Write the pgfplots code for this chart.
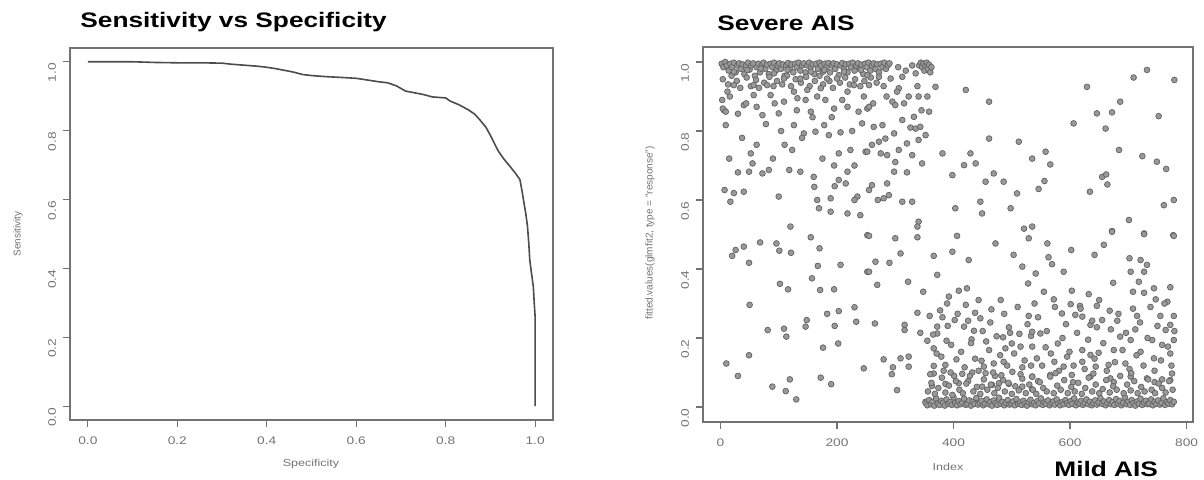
\documentclass[border=0pt]{standalone}
\usepackage{pgfplots}
\pgfplotsset{compat=1.18}
\usepackage{fontspec}
\setmainfont{Liberation Sans}
\newfontfamily\wfont[FakeStretch=1.25]{Liberation Sans}
\definecolor{rgray}{gray}{0.45}
\begin{document}
\begin{tikzpicture}
\path[use as bounding box] (0pt,0pt) rectangle (602pt,240pt);
\pgfplotsset{
  rstyle/.style={
    scale only axis, anchor=south west,
    axis line style={rgray, line width=0.9pt},
    tick style={rgray, line width=0.6pt},
    tick align=outside, major tick length=3.5pt,
    xtick pos=bottom, ytick pos=left,
    ticklabel style={font=\wfont\fontsize{5.5}{6}\selectfont, text=rgray},
    yticklabel style={rotate=90, anchor=south, xshift=-5.5pt},
    xticklabel style={yshift=-1.5pt},
  }
}
% ---------- left: ROC curve ----------
\begin{axis}[rstyle, at={(35pt,30pt)}, width=241.5pt, height=186pt,
  xmin=-0.04, xmax=1.04, ymin=-0.04, ymax=1.04,
  xtick={0,0.2,0.4,0.6,0.8,1}, xticklabels={0.0,0.2,0.4,0.6,0.8,1.0},
  ytick={0,0.2,0.4,0.6,0.8,1}, yticklabels={0.0,0.2,0.4,0.6,0.8,1.0}]
\addplot[black!70, line width=0.8pt] coordinates {
(0,1.0)(0.05,1.0)(0.1,1.0)(0.15,0.998)(0.2,0.997)(0.25,0.997)(0.3,0.996)(0.32,0.993)
(0.35,0.99)(0.38,0.987)(0.4,0.984)(0.42,0.98)(0.44,0.975)(0.46,0.97)(0.48,0.963)(0.5,0.96)
(0.53,0.957)(0.56,0.955)(0.6,0.952)(0.63,0.946)(0.65,0.942)(0.67,0.939)(0.69,0.93)(0.71,0.915)
(0.73,0.91)(0.75,0.905)(0.77,0.898)(0.8,0.895)(0.81,0.886)(0.83,0.875)(0.85,0.861)(0.865,0.848)
(0.876,0.832)(0.89,0.81)(0.901,0.784)(0.91,0.76)(0.918,0.74)(0.93,0.718)(0.944,0.696)(0.955,0.678)
(0.966,0.658)(0.97,0.63)(0.974,0.599)(0.979,0.56)(0.983,0.522)(0.986,0.47)(0.988,0.425)(0.992,0.385)
(0.996,0.347)(0.998,0.30)(1.0,0.26)(1.0,0.0)};
\end{axis}
% ---------- right: fitted values ----------
\begin{axis}[rstyle, at={(351.5pt,29pt)}, width=245pt, height=187.5pt,
  xmin=-30, xmax=811, ymin=-0.0435, ymax=1.0435,
  xtick={0,200,400,600,800}, xticklabels={0,200,400,600,800},
  ytick={0,0.2,0.4,0.6,0.8,1}, yticklabels={0.0,0.2,0.4,0.6,0.8,1.0}]
\addplot[only marks, mark=*, mark size=1.45pt,
  mark options={fill=black!40, draw=black!62, line width=0.35pt}] table {
x y
2 0.995
5 0.985
8 1.0
11 0.99
14 0.975
17 0.995
20 0.985
23 0.998
26 0.97
29 0.99
32 0.996
35 0.98
38 0.993
41 0.965
44 0.99
47 0.998
50 0.978
53 0.99
56 0.996
59 0.96
62 0.985
65 0.995
68 0.97
71 0.99
74 0.998
77 0.98
80 0.992
83 0.965
86 0.995
89 0.985
92 0.998
95 0.975
98 0.99
101 0.996
104 0.98
107 0.993
110 0.96
113 0.99
116 0.997
119 0.982
122 0.993
125 0.97
128 0.995
131 0.985
134 0.998
137 0.975
140 0.99
143 0.996
146 0.97
149 0.99
152 0.998
155 0.985
158 0.993
161 0.965
164 0.995
167 0.98
170 0.998
173 0.99
176 0.972
179 0.995
182 0.985
185 0.997
188 0.97
191 0.99
194 0.996
197 0.98
200 0.993
203 0.962
206 0.99
209 0.997
212 0.98
215 0.993
218 0.97
221 0.995
224 0.985
227 0.998
230 0.975
233 0.99
236 0.996
239 0.98
242 0.992
245 0.965
248 0.995
251 0.985
254 0.998
257 0.975
260 0.99
263 0.996
266 0.98
269 0.993
272 0.97
275 0.995
278 0.985
281 0.998
284 0.98
287 0.99
290 0.996
305 0.985
318 0.975
329 0.99
341 0.99
344 0.998
346 0.985
348 0.995
350 0.975
352 0.99
354 0.998
356 0.98
358 0.992
360 0.97
362 0.985
4 0.95
13 0.935
19 0.96
28 0.945
34 0.925
45 0.955
52 0.93
61 0.948
66 0.925
75 0.94
84 0.957
91 0.93
97 0.945
106 0.935
114 0.96
121 0.93
129 0.95
138 0.94
147 0.957
153 0.93
162 0.945
170 0.96
176 0.935
187 0.945
193 0.925
205 0.94
214 0.955
222 0.935
231 0.95
240 0.93
247 0.945
258 0.955
268 0.94
280 0.93
6 0.86
3 0.89
9 0.817
37 0.78
15 0.72
52 0.735
55 0.706
49 0.682
72 0.677
83 0.687
118 0.687
137 0.682
160 0.667
161 0.638
123 0.745
143 0.793
163 0.798
186 0.788
206 0.796
203 0.735
223 0.745
249 0.74
218 0.682
203 0.658
215 0.648
235 0.61
189 0.605
166 0.6
169 0.576
189 0.566
218 0.561
240 0.556
120 0.523
7 0.629
23 0.62
40 0.624
17 0.595
100 0.61
126 0.817
178 0.817
195 0.865
218 0.87
243 0.822
252 0.865
72 0.846
100 0.851
40 0.875
57 0.904
86 0.904
109 0.885
132 0.895
146 0.89
155 0.856
172 0.924
149 0.919
126 0.914
109 0.952
80 0.933
57 0.933
23 0.933
12 0.914
218 0.914
229 0.933
200 0.952
183 0.952
137 0.952
166 0.9
237 0.856
4 0.865
9 0.856
23 0.972
46 0.977
69 0.981
92 0.967
115 0.977
155 0.972
178 0.977
212 0.972
241 0.977
252 0.962
16 0.9
30 0.85
44 0.88
62 0.87
78 0.82
93 0.88
104 0.8
131 0.86
140 0.78
158 0.84
180 0.89
191 0.84
209 0.89
226 0.8
246 0.9
262 0.88
285 0.9
315 0.88
326 0.81
338 0.93
345 0.86
62 0.76
90 0.72
110 0.76
175 0.72
195 0.7
230 0.7
260 0.76
300 0.71
320 0.68
196 0.64
230 0.6
270 0.6
30 0.68
272 0.957
292 0.952
312 0.957
335 0.967
255 0.933
306 0.924
303 0.914
323 0.9
340 0.9
355 0.9
369 0.928
421 0.919
461 0.885
255 0.87
295 0.885
300 0.875
358 0.856
312 0.832
332 0.841
263 0.812
278 0.817
298 0.793
335 0.807
343 0.812
352 0.788
272 0.769
283 0.778
306 0.745
320 0.764
340 0.774
329 0.73
252 0.74
275 0.735
286 0.73
346 0.706
381 0.735
398 0.672
418 0.701
429 0.735
438 0.706
461 0.778
512 0.769
469 0.677
455 0.653
486 0.653
509 0.619
298 0.682
286 0.648
255 0.629
260 0.643
280 0.605
289 0.614
312 0.595
329 0.595
403 0.576
446 0.595
449 0.561
498 0.576
340 0.537
338 0.523
521 0.517
732 0.977
709 0.955
779 0.948
629 0.928
686 0.885
646 0.851
672 0.854
752 0.843
606 0.822
661 0.807
558 0.74
535 0.72
566 0.703
684 0.745
724 0.727
749 0.711
765 0.69
556 0.655
546 0.632
655 0.667
662 0.674
664 0.645
634 0.624
761 0.585
778 0.6
701 0.542
535 0.523
672 0.51
727 0.503
777 0.498
155 0.492
252 0.498
68 0.477
96 0.474
40 0.465
26 0.455
20 0.438
101 0.453
121 0.447
170 0.46
49 0.418
167 0.409
206 0.412
252 0.392
157 0.373
102 0.357
116 0.341
171 0.339
195 0.341
50 0.296
230 0.289
183 0.27
203 0.278
148 0.252
146 0.233
196 0.235
233 0.247
81 0.223
109 0.227
113 0.204
176 0.172
202 0.184
49 0.15
10 0.126
30 0.09
246 0.112
172 0.085
190 0.066
119 0.08
89 0.059
112 0.046
130 0.022
255 0.496
300 0.489
338 0.492
406 0.496
472 0.474
529 0.489
309 0.445
366 0.438
398 0.45
426 0.426
503 0.441
266 0.421
290 0.418
255 0.392
518 0.407
372 0.383
322 0.363
269 0.354
528 0.358
348 0.334
409 0.337
423 0.344
392 0.32
443 0.31
481 0.31
389 0.3
421 0.296
338 0.273
359 0.264
381 0.26
437 0.273
446 0.257
465 0.283
529 0.264
265 0.242
316 0.238
316 0.223
402 0.252
372 0.233
418 0.233
495 0.231
343 0.215
372 0.213
435 0.221
513 0.212
388 0.192
355 0.192
431 0.196
485 0.202
533 0.206
500 0.184
366 0.17
461 0.165
489 0.17
280 0.138
309 0.141
323 0.146
379 0.146
405 0.138
448 0.134
469 0.126
486 0.131
296 0.115
323 0.117
366 0.119
386 0.122
452 0.117
518 0.115
294 0.095
366 0.097
415 0.096
432 0.1
471 0.09
501 0.102
535 0.088
303 0.049
363 0.061
386 0.067
409 0.069
449 0.059
466 0.064
478 0.069
495 0.067
518 0.059
535 0.051
352 0.015
672 0.508
727 0.501
778 0.496
561 0.474
602 0.455
658 0.47
642 0.441
563 0.434
569 0.414
702 0.431
721 0.426
732 0.412
589 0.392
541 0.387
704 0.392
727 0.392
674 0.36
718 0.363
555 0.334
603 0.337
632 0.327
708 0.334
727 0.331
744 0.344
772 0.347
572 0.312
747 0.312
767 0.305
601 0.298
617 0.293
646 0.293
668 0.279
586 0.271
609 0.267
621 0.262
715 0.264
755 0.264
778 0.264
655 0.252
681 0.25
635 0.238
646 0.231
712 0.225
772 0.238
764 0.223
535 0.218
549 0.213
686 0.204
704 0.194
741 0.194
778 0.194
758 0.18
535 0.175
558 0.173
579 0.184
621 0.165
635 0.151
649 0.157
675 0.165
721 0.16
744 0.141
772 0.155
543 0.141
573 0.131
595 0.146
621 0.131
644 0.117
666 0.122
695 0.126
589 0.117
535 0.088
566 0.093
603 0.093
635 0.088
669 0.083
704 0.088
732 0.083
758 0.08
772 0.078
365 0.21
371 0.155
377 0.28
383 0.105
390 0.235
396 0.18
401 0.09
407 0.27
413 0.16
419 0.115
425 0.25
430 0.185
437 0.14
443 0.105
450 0.22
456 0.19
463 0.245
468 0.1
474 0.205
480 0.15
487 0.27
492 0.12
497 0.215
504 0.155
510 0.29
515 0.175
522 0.135
527 0.24
533 0.12
539 0.3
545 0.26
552 0.12
560 0.22
567 0.155
574 0.29
581 0.105
587 0.2
593 0.24
599 0.16
606 0.12
612 0.215
618 0.285
625 0.11
631 0.195
638 0.25
642 0.14
650 0.31
657 0.185
663 0.105
670 0.225
677 0.13
683 0.27
690 0.165
696 0.215
702 0.11
708 0.285
714 0.15
720 0.245
726 0.12
733 0.2
738 0.29
745 0.105
750 0.235
756 0.135
762 0.3
768 0.175
774 0.12
779 0.22
360 0.095
395 0.1
425 0.075
455 0.098
485 0.078
515 0.095
545 0.075
575 0.098
605 0.072
640 0.097
675 0.072
705 0.098
745 0.072
775 0.097
352 0.012
355 0.005
358 0.02
361 0.008
364 0.015
367 0.004
370 0.025
373 0.01
376 0.006
379 0.018
382 0.012
385 0.004
388 0.022
391 0.009
394 0.014
397 0.006
400 0.028
403 0.011
406 0.005
409 0.017
412 0.008
415 0.013
418 0.024
421 0.006
424 0.01
427 0.019
430 0.004
433 0.015
436 0.009
439 0.026
442 0.007
445 0.012
448 0.018
451 0.005
454 0.01
457 0.022
460 0.008
463 0.014
466 0.004
469 0.019
472 0.011
475 0.006
478 0.027
481 0.009
484 0.015
487 0.005
490 0.012
493 0.02
496 0.007
499 0.01
502 0.016
505 0.005
508 0.023
511 0.009
514 0.013
517 0.006
520 0.018
523 0.01
526 0.004
529 0.014
532 0.021
535 0.008
538 0.012
541 0.005
544 0.017
547 0.01
550 0.025
553 0.006
556 0.013
559 0.009
562 0.019
565 0.005
568 0.011
571 0.016
574 0.007
577 0.022
580 0.01
583 0.005
586 0.014
589 0.008
592 0.02
595 0.012
598 0.006
601 0.017
604 0.009
607 0.025
610 0.005
613 0.013
616 0.01
619 0.018
622 0.006
625 0.012
628 0.022
631 0.008
634 0.015
637 0.005
640 0.011
643 0.019
646 0.007
649 0.013
652 0.026
655 0.009
658 0.016
661 0.005
664 0.012
667 0.02
670 0.008
673 0.014
676 0.006
679 0.023
682 0.01
685 0.017
688 0.005
691 0.012
694 0.028
697 0.008
700 0.015
703 0.006
706 0.02
709 0.011
712 0.004
715 0.016
718 0.009
721 0.024
724 0.006
727 0.013
730 0.018
733 0.008
736 0.01
739 0.022
742 0.005
745 0.015
748 0.009
751 0.019
754 0.007
757 0.012
760 0.025
763 0.006
766 0.014
769 0.01
772 0.02
775 0.008
778 0.015
356 0.045
362 0.07
368 0.038
374 0.055
380 0.085
386 0.042
392 0.062
398 0.035
404 0.075
410 0.05
416 0.04
422 0.068
428 0.09
434 0.045
440 0.058
446 0.038
452 0.08
458 0.05
464 0.065
470 0.04
476 0.055
482 0.092
488 0.045
494 0.07
500 0.038
506 0.06
512 0.048
518 0.082
524 0.04
530 0.065
536 0.05
542 0.038
548 0.072
554 0.055
560 0.045
566 0.088
572 0.04
578 0.062
584 0.05
590 0.078
596 0.04
602 0.058
608 0.045
614 0.07
620 0.038
626 0.055
632 0.085
638 0.045
644 0.065
650 0.04
656 0.052
662 0.078
668 0.042
674 0.06
680 0.05
686 0.09
692 0.04
698 0.065
704 0.048
710 0.075
716 0.04
722 0.058
728 0.045
734 0.08
740 0.05
746 0.04
752 0.068
758 0.055
764 0.042
770 0.075
776 0.05
};
\end{axis}
% ---------- titles and labels ----------
\node[anchor=base west, inner sep=0pt, font=\wfont\bfseries\fontsize{10.5}{12}\selectfont] at (40pt,226pt) {Sensitivity vs Specificity};
\node[anchor=base west, inner sep=0pt, font=\wfont\bfseries\fontsize{10.5}{12}\selectfont] at (358.5pt,224.5pt) {Severe AIS};
\node[anchor=base west, inner sep=0pt, font=\wfont\bfseries\fontsize{10.5}{12}\selectfont] at (527pt,1.5pt) {Mild AIS};
\node[rotate=90, inner sep=0pt, text=rgray, font=\fontsize{5}{6}\selectfont] at (9pt,123pt) {Sensitivity};
\node[inner sep=0pt, text=rgray, font=\wfont\fontsize{5}{6}\selectfont] at (155.5pt,8pt) {Specificity};
\node[rotate=90, inner sep=0pt, text=rgray, font=\fontsize{5}{6}\selectfont] at (325pt,123.5pt) {fitted.values(glmfit2, type = "response")};
\node[inner sep=0pt, text=rgray, font=\wfont\fontsize{5}{6}\selectfont] at (474pt,6.5pt) {Index};
\end{tikzpicture}
\end{document}
